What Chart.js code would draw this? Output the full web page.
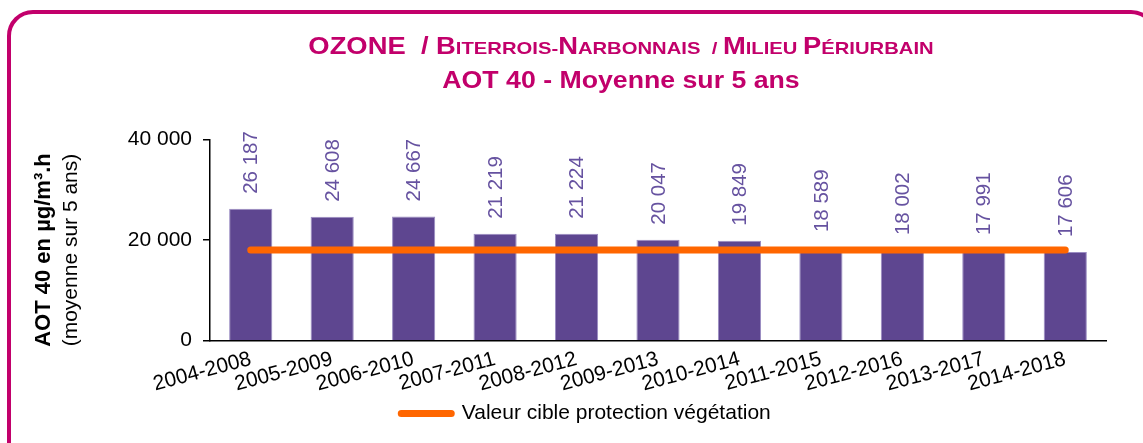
<!DOCTYPE html>
<html>
<head>
<meta charset="utf-8">
<script src="https://cdn.jsdelivr.net/npm/chart.js@4.4.0/dist/chart.umd.min.js"></script>
<style>
  html, body { margin: 0; padding: 0; background: #fff; }
  #wrap { position: relative; width: 1143px; height: 443px; overflow: hidden; }
  #frame { position: absolute; left: 7px; top: 10px; width: 1150px; height: 480px;
           border: 4px solid #c2006b; border-radius: 26px; box-sizing: border-box; }
  #aot { position: absolute; left: 0; top: 0; }
</style>
</head>
<body>
<div id="wrap">
  <div id="frame"></div>
  <canvas id="aot" width="1143" height="443"></canvas>
</div>
<script>
const periods = ['2004-2008', '2005-2009', '2006-2010', '2007-2011', '2008-2012', '2009-2013',
                 '2010-2014', '2011-2015', '2012-2016', '2013-2017', '2014-2018'];
const aot40 = [26187, 24608, 24667, 21219, 21224, 20047, 19849, 18589, 18002, 17991, 17606];
const targetValue = [18000, 18000, 18000, 18000, 18000, 18000, 18000, 18000, 18000, 18000, 18000];
const yTicks = [0, 20000, 40000];
const titleLines = ['OZONE  / Biterrois-Narbonnais  / Milieu Périurbain', 'AOT 40 - Moyenne sur 5 ans'];
const yTitleLines = ['AOT 40 en µg/m³.h', '(moyenne sur 5 ans)'];

const FONT = "'Liberation Sans', Arial, sans-serif";
const MAGENTA = '#c2006b';
const PURPLE = '#5e4690';

// "26187" -> "26 187"
const fmt = v => String(v).replace(/\B(?=(\d{3})+(?!\d))/g, ' ');

// draws a string with lowercase letters rendered as small capitals,
// stretched horizontally by sx like the original title
function drawSmallCaps(ctx, text, cx, y, big, small, sx) {
  const runs = [];
  for (const ch of text) {
    const isLetter = ch.toLowerCase() !== ch.toUpperCase();
    const last = runs[runs.length - 1];
    const low = isLetter ? ch === ch.toLowerCase() : (last ? last.low : false);
    if (last && last.low === low) last.t += ch;
    else runs.push({ t: ch, low });
  }
  let total = 0;
  runs.forEach(r => {
    ctx.font = `bold ${r.low ? small : big}px ${FONT}`;
    r.s = r.low ? r.t.toUpperCase() : r.t;
    r.w = ctx.measureText(r.s).width;
    total += r.w;
  });
  ctx.save();
  ctx.translate(cx, y);
  ctx.scale(sx, 1);
  let x = -total / 2;
  runs.forEach(r => {
    ctx.font = `bold ${r.low ? small : big}px ${FONT}`;
    ctx.fillText(r.s, x, 0);
    x += r.w;
  });
  ctx.restore();
}

const textPlugin = {
  id: 'textPlugin',
  afterDraw(chart) {
    const ctx = chart.ctx;
    ctx.save();
    ctx.fillStyle = MAGENTA;
    ctx.textAlign = 'left';
    ctx.textBaseline = 'alphabetic';
    drawSmallCaps(ctx, titleLines[0], 621, 54, 23, 17, 1.19);
    ctx.save();
    ctx.translate(621, 88);
    ctx.scale(1.16, 1);
    ctx.font = `bold 23px ${FONT}`;
    ctx.textAlign = 'center';
    ctx.fillText(titleLines[1], 0, 0);
    ctx.restore();

    // y axis title, two lines
    ctx.fillStyle = '#000';
    ctx.textAlign = 'center';
    ctx.textBaseline = 'middle';
    ctx.translate(44, 250);
    ctx.rotate(-Math.PI / 2);
    ctx.font = `bold 22px ${FONT}`;
    ctx.fillText(yTitleLines[0], 0, 0);
    ctx.font = `21px ${FONT}`;
    ctx.fillText(yTitleLines[1], 0, 27);
    ctx.restore();
  },
  afterDatasetsDraw(chart) {
    const ctx = chart.ctx;
    const meta = chart.getDatasetMeta(1);
    ctx.save();
    ctx.fillStyle = '#6652a0';
    ctx.font = `20.5px ${FONT}`;
    ctx.textAlign = 'left';
    ctx.textBaseline = 'middle';
    meta.data.forEach((bar, i) => {
      ctx.save();
      ctx.translate(bar.x + 1, bar.y - 15);
      ctx.rotate(-Math.PI / 2);
      ctx.fillText(fmt(aot40[i]), 0, 0);
      ctx.restore();
    });
    ctx.restore();
  }
};

new Chart(document.getElementById('aot'), {
  type: 'bar',
  data: {
    labels: periods,
    datasets: [
      {
        type: 'line',
        label: 'Valeur cible protection végétation',
        data: targetValue,
        borderColor: '#ff6600',
        backgroundColor: '#ff6600',
        borderWidth: 7,
        borderCapStyle: 'round',
        borderJoinStyle: 'round',
        pointRadius: 0,
        order: 0
      },
      {
        type: 'bar',
        label: 'AOT 40',
        data: aot40,
        backgroundColor: PURPLE,
        borderColor: '#9a8cc2',
        borderWidth: 1,
        barPercentage: 0.53,
        categoryPercentage: 1,
        order: 1
      }
    ]
  },
  options: {
    responsive: false,
    animation: false,
    layout: { padding: { left: 66, right: 37, top: 139.3, bottom: 9 } },
    plugins: {
      title: { display: false },
      tooltip: { enabled: false },
      legend: {
        position: 'bottom',
        labels: {
          filter: item => item.datasetIndex === 0,
          boxWidth: 50,
          boxHeight: 0,
          padding: 10,
          color: '#000',
          font: { family: FONT, size: 21 }
        }
      }
    },
    scales: {
      x: {
        grid: { display: false, drawTicks: false },
        border: { color: '#000', width: 1.5 },
        ticks: {
          color: '#000',
          font: { family: FONT, size: 21 },
          minRotation: 15,
          maxRotation: 15,
          autoSkip: false,
          padding: 6
        },
        afterFit: s => { s.height = 52.3; }
      },
      y: {
        min: 0,
        max: 40000,
        afterBuildTicks: s => { s.ticks = yTicks.map(v => ({ value: v })); },
        grid: { drawOnChartArea: false, drawTicks: true, tickLength: 7, color: '#000', lineWidth: 1.5 },
        border: { color: '#000', width: 1.5 },
        ticks: {
          color: '#000',
          padding: 11,
          font: { family: FONT, size: 21 },
          callback: v => fmt(v)
        },
        afterFit: s => { s.width = 144; }
      }
    }
  },
  plugins: [textPlugin]
});
</script>
</body>
</html>
